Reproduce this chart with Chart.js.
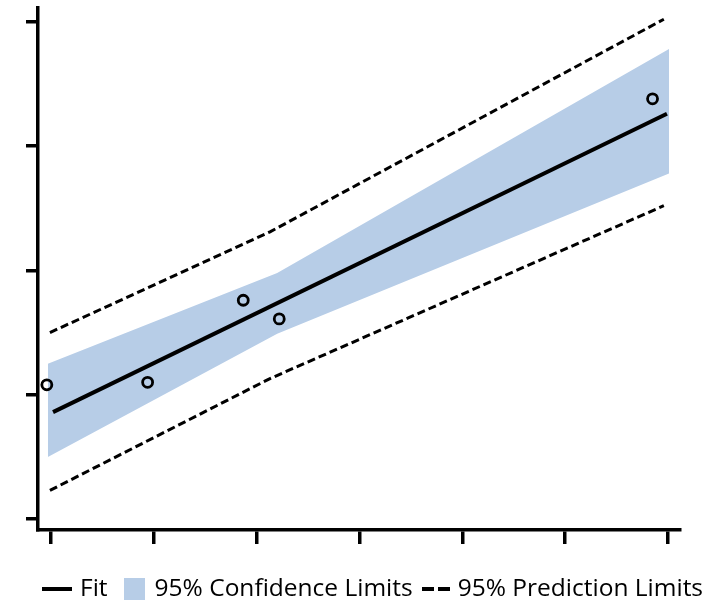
<!DOCTYPE html>
<html>
<head>
<meta charset="utf-8">
<script src="https://cdn.jsdelivr.net/npm/chart.js@4.4.1/dist/chart.umd.min.js"></script>
<style>
  html, body { margin: 0; padding: 0; background: #fff; }
  #wrap { position: relative; width: 713px; height: 600px; }
  #legend {
    position: absolute; left: 42px; top: 578px; height: 22px;
    display: flex; align-items: center;
    font-family: "Open Sans", sans-serif; font-size: 24.5px; line-height: 1; color: #000;
    white-space: nowrap;
  }
  #legend .txt { position: relative; top: -1.5px; }
  #legend .mk-line { width: 30px; height: 4px; background: #000; margin-right: 8px; }
  #legend .mk-box { width: 21px; height: 22px; margin-right: 10px; }
  #legend .mk-dash {
    width: 28px; height: 4px; margin-right: 8px;
    background: repeating-linear-gradient(to right, #000 0 12px, transparent 12px 16px);
  }
</style>
</head>
<body>
<div id="wrap">
  <canvas id="fitChart"></canvas>
  <div id="legend"></div>
</div>
<script>
// observed points
const obsX = [-0.04, 0.94, 1.87, 2.22, 5.85];
const obsY = [1.08, 1.10, 1.76, 1.61, 3.38];

// fitted line end points
const fitX = [0.02, 5.99];
const fitY = [0.86, 3.26];

// 95% confidence band
const confX = [-0.03, 2.20, 6.01];
const confUpper = [1.25, 1.98, 3.78];
const confLower = [0.50, 1.49, 2.78];

// 95% prediction limits
const predX = [-0.01, 2.13, 5.96];
const predUpper = [1.50, 2.31, 4.02];
const predLower = [0.23, 1.13, 2.52];

const xTicks = [0, 1, 2, 3, 4, 5, 6];
const yTicks = [0, 1, 2, 3, 4];

const legendLabels = ['Fit', '95% Confidence Limits', '95% Prediction Limits'];

const BAND = '#b7cde7';
const INK = '#000000';

const toPoints = (xs, ys) => xs.map((x, i) => ({ x: x, y: ys[i] }));

// legend row under the plot
const legendMarks = ['mk-line', 'mk-box', 'mk-dash'];
const legendGaps = [16, 9, 0];
const legendEl = document.getElementById('legend');
legendLabels.forEach((text, i) => {
  const mk = document.createElement('span');
  mk.className = legendMarks[i];
  if (i === 1) mk.style.background = BAND;
  const tx = document.createElement('span');
  tx.className = 'txt';
  tx.textContent = text;
  tx.style.marginRight = legendGaps[i] + 'px';
  legendEl.appendChild(mk);
  legendEl.appendChild(tx);
});

const ctx = document.getElementById('fitChart').getContext('2d');

new Chart(ctx, {
  type: 'line',
  data: {
    datasets: [
      {
        label: 'upper',
        data: toPoints(confX, confUpper),
        borderWidth: 0,
        pointRadius: 0,
        backgroundColor: BAND,
        fill: '+1',
        order: 5
      },
      {
        label: 'lower',
        data: toPoints(confX, confLower),
        borderWidth: 0,
        pointRadius: 0,
        fill: false,
        order: 5
      },
      {
        label: 'predUpper',
        data: toPoints(predX, predUpper),
        borderColor: INK,
        borderWidth: 3,
        borderDash: [8, 4],
        pointRadius: 0,
        fill: false,
        order: 3
      },
      {
        label: 'predLower',
        data: toPoints(predX, predLower),
        borderColor: INK,
        borderWidth: 3,
        borderDash: [8, 4],
        pointRadius: 0,
        fill: false,
        order: 3
      },
      {
        label: 'fit',
        data: toPoints(fitX, fitY),
        borderColor: INK,
        borderWidth: 4,
        pointRadius: 0,
        fill: false,
        order: 2
      },
      {
        label: 'obs',
        data: toPoints(obsX, obsY),
        showLine: false,
        pointRadius: 5,
        pointBorderWidth: 2.8,
        pointBorderColor: INK,
        pointBackgroundColor: 'rgba(0,0,0,0)',
        order: 1
      }
    ]
  },
  options: {
    responsive: true,
    maintainAspectRatio: false,
    animation: false,
    layout: { padding: { left: 26, right: 33, top: 7, bottom: 56 } },
    scales: {
      x: {
        type: 'linear',
        min: -0.126,
        max: 6.117,
        afterBuildTicks: s => { s.ticks = xTicks.map(v => ({ value: v })); },
        ticks: { display: false },
        grid: { drawOnChartArea: false, drawTicks: true, tickLength: 14, lineWidth: 3.5, color: INK },
        border: { color: INK, width: 3.5 }
      },
      y: {
        min: -0.088,
        max: 4.112,
        afterBuildTicks: s => { s.ticks = yTicks.map(v => ({ value: v })); },
        ticks: { display: false },
        grid: { drawOnChartArea: false, drawTicks: true, tickLength: 12, lineWidth: 3.5, color: INK },
        border: { color: INK, width: 3.5 }
      }
    },
    plugins: {
      tooltip: { enabled: false },
      legend: { display: false }
    }
  }
});
</script>
</body>
</html>
